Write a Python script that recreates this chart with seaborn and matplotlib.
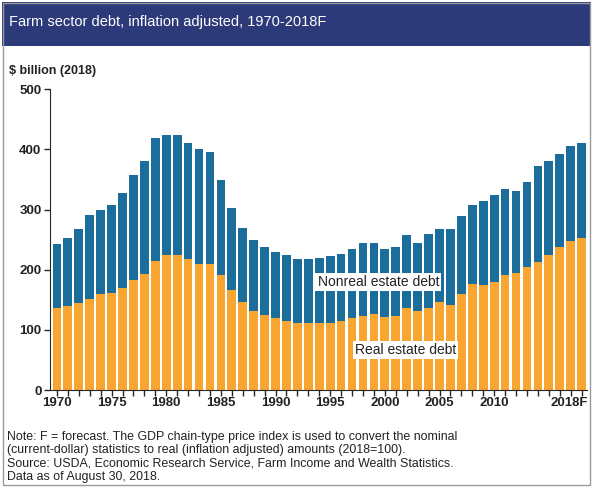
import matplotlib.pyplot as plt
import matplotlib.patches as mpatches
from matplotlib.transforms import ScaledTranslation
import seaborn as sns
import pandas as pd

# Farm sector debt, inflation adjusted ($ billion, 2018 dollars)
years = list(range(1970, 2019))
real_estate = [137, 139, 145, 152, 159, 162, 169, 183, 193, 215,
               224, 224, 217, 210, 210, 191, 166, 147, 131, 124,
               119, 115, 111, 111, 111, 112, 114, 119, 123, 127,
               122, 123, 136, 132, 137, 147, 141, 160, 176, 174,
               180, 191, 194, 204, 213, 224, 238, 248, 252]
nonreal_estate = [106, 114, 122, 139, 141, 145, 159, 174, 187, 203,
                  199, 199, 194, 191, 185, 158, 136, 122, 118, 113,
                  110, 109, 106, 106, 108, 110, 112, 115, 121, 117,
                  112, 115, 121, 113, 122, 120, 126, 130, 132, 140,
                  144, 143, 137, 142, 159, 157, 155, 158, 159]
tick_years = [1970, 1975, 1980, 1985, 1990, 1995, 2000, 2005, 2010, 2018]
tick_labels = ['1970', '1975', '1980', '1985', '1990', '1995', '2000', '2005', '2010', '2018F']

df = pd.DataFrame({
    'year': [str(y) for y in years],
    'real': real_estate,
    'total': [a + b for a, b in zip(real_estate, nonreal_estate)],
})

sns.set_style('ticks')
plt.rcParams['font.family'] = ['Liberation Sans', 'DejaVu Sans']

fig = plt.figure(figsize=(5.93, 4.87), dpi=100)
ax = fig.add_axes([0.084, 0.199, 0.906, 0.618])

teal = '#1b6e9b'
orange = '#f9a532'
sns.barplot(data=df, x='year', y='total', color=teal, saturation=1,
            width=0.8, edgecolor='none', ax=ax)
sns.barplot(data=df, x='year', y='real', color=orange, saturation=1,
            width=0.8, edgecolor='none', ax=ax)

ax.set_ylim(0, 500)
ax.set_xlim(-0.65, 48.5)
ax.set_yticks([0, 100, 200, 300, 400, 500])
ax.tick_params(axis='y', labelsize=9.5, length=4, width=1, pad=2)
pos = [years.index(y) for y in tick_years]
ax.set_xticks(pos)
ax.set_xticklabels(tick_labels, fontsize=9.5)
ax.set_xticks(range(len(years)), minor=True)
ax.tick_params(axis='x', which='both', length=4, width=1, pad=1)
ax.set_xlabel('')
ax.set_ylabel('')
sns.despine(ax=ax)
for lbl in ax.get_xticklabels() + ax.get_yticklabels():
    lbl.set_fontweight('bold')
    lbl.set_color('#222222')
# keep the last label inside the frame
last = ax.get_xticklabels()[-1]
last.set_transform(last.get_transform() + ScaledTranslation(-9 / 72, 0, fig.dpi_scale_trans))

box = dict(facecolor='white', edgecolor='none', pad=1.5)
ax.text(29.4, 179, 'Nonreal estate debt', ha='center', va='center',
        fontsize=10, color='#222222', bbox=box)
ax.text(31.9, 66, 'Real estate debt', ha='center', va='center',
        fontsize=10, color='#222222', bbox=box)

# title banner and frame
fig.patches.append(mpatches.Rectangle((0.004, 0.905), 0.992, 0.09, transform=fig.transFigure,
                                      facecolor='#2c3a7a', edgecolor='none', zorder=0))
fig.patches.append(mpatches.Rectangle((0.005, 0.004), 0.99, 0.99, transform=fig.transFigure,
                                      facecolor='none', edgecolor='#9a9a9a', lw=1, zorder=0))
fig.text(0.015, 0.955, 'Farm sector debt, inflation adjusted, 1970-2018F',
         color='white', fontsize=10.5, va='center')
fig.text(0.015, 0.855, '$ billion (2018)', fontsize=9, fontweight='bold',
         color='#222222', va='center')

notes = ('Note: F = forecast. The GDP chain-type price index is used to convert the nominal\n'
         '(current-dollar) statistics to real (inflation adjusted) amounts (2018=100).\n'
         'Source: USDA, Economic Research Service, Farm Income and Wealth Statistics.\n'
         'Data as of August 30, 2018.')
fig.text(0.012, 0.008, notes, fontsize=8.9, color='#222222', va='bottom',
         linespacing=1.15)

fig.savefig('out.png', dpi=100)
